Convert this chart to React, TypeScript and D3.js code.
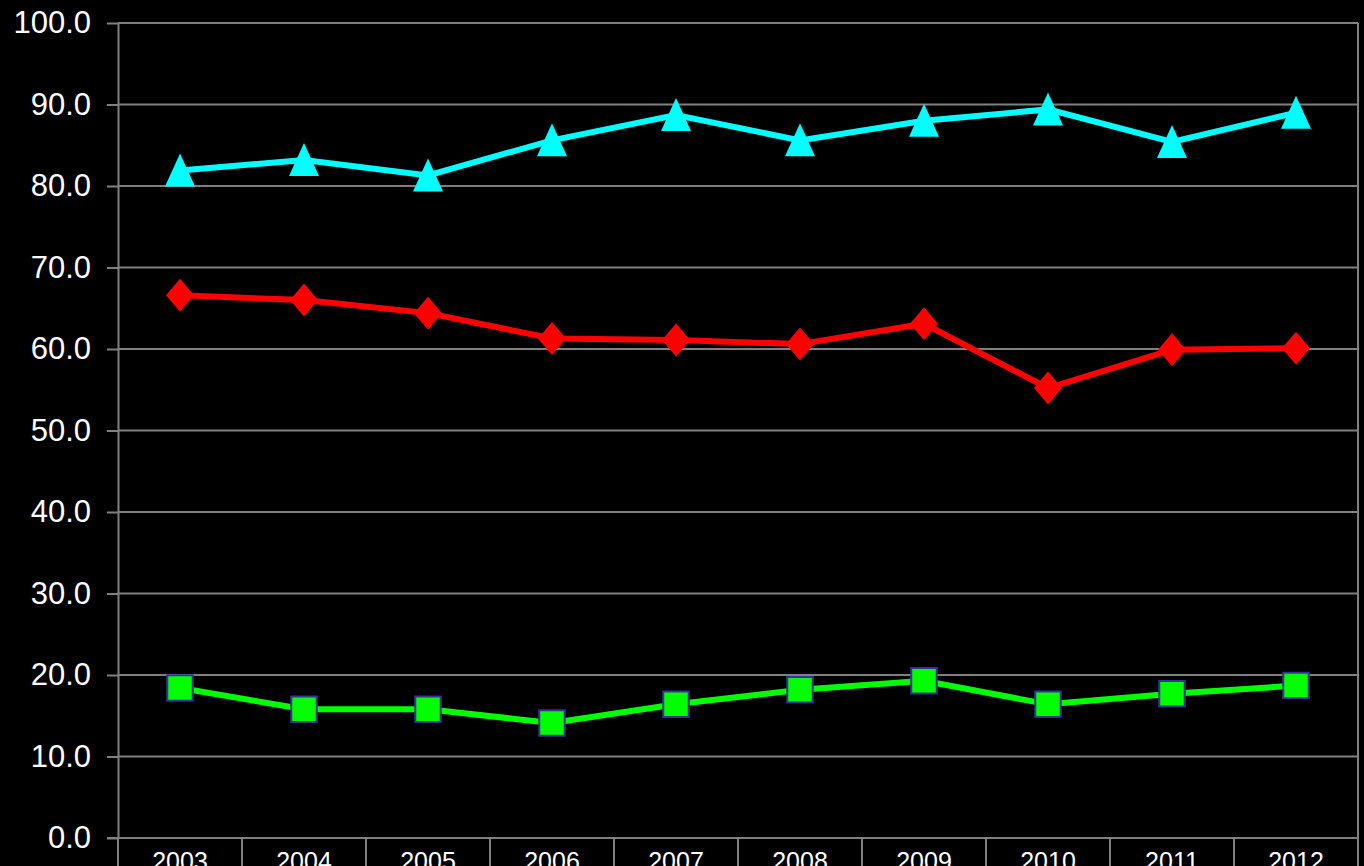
import React, { useEffect, useRef } from "react";
import * as d3 from "d3";

const years = ["2003", "2004", "2005", "2006", "2007", "2008", "2009", "2010", "2011", "2012"];
const cyanValues = [81.9, 83.2, 81.3, 85.6, 88.7, 85.6, 88.0, 89.4, 85.4, 89.0];
const redValues = [66.6, 66.0, 64.4, 61.3, 61.1, 60.6, 63.1, 55.2, 59.9, 60.1];
const greenValues = [18.4, 15.8, 15.8, 14.1, 16.4, 18.2, 19.3, 16.4, 17.7, 18.7];
const yTicks = [0, 10, 20, 30, 40, 50, 60, 70, 80, 90, 100];

const W = 1364;
const H = 866;
const left = 118;
const right = 1358;
const top = 23;
const bottom = 838;
const gridColor = "#808080";

// marker shapes (drawn around 0,0)
const tallTriangle = {
  draw(ctx: any) {
    ctx.moveTo(0, -17);
    ctx.lineTo(15, 16);
    ctx.lineTo(-15, 16);
    ctx.closePath();
  },
};
const wideDiamond = {
  draw(ctx: any) {
    ctx.moveTo(0, -16.5);
    ctx.lineTo(14, 0);
    ctx.lineTo(0, 16.5);
    ctx.lineTo(-14, 0);
    ctx.closePath();
  },
};

export default function App() {
  const svgRef = useRef<SVGSVGElement>(null);

  useEffect(() => {
    const svg = d3.select(svgRef.current);
    svg.selectAll("*").remove();

    const x = d3.scaleBand().domain(years).range([left, right]);
    const y = d3.scaleLinear().domain([0, 100]).range([bottom, top]);
    const cx = (d: string) => (x(d) as number) + x.bandwidth() / 2;

    svg.append("rect").attr("width", W).attr("height", H).attr("fill", "black");

    // y axis with tick labels
    const yAxis = svg.append("g")
      .attr("transform", `translate(${left},0)`)
      .call(d3.axisLeft(y).tickValues(yTicks).tickFormat(d3.format(".1f")).tickSize(11).tickSizeOuter(0));
    yAxis.select(".domain").attr("stroke", gridColor).attr("stroke-width", 2);
    yAxis.selectAll("line").attr("stroke", gridColor).attr("stroke-width", 2);
    yAxis.selectAll("text")
      .attr("fill", "white")
      .attr("font-family", "Liberation Sans, Arial, sans-serif")
      .attr("font-size", 31)
      .attr("x", -27);

    // horizontal gridlines
    svg.append("g").selectAll("line").data(yTicks.filter(t => t > 0)).enter().append("line")
      .attr("x1", left).attr("x2", right)
      .attr("y1", d => y(d)).attr("y2", d => y(d))
      .attr("stroke", gridColor).attr("stroke-width", 2);

    // x axis line, category separators
    svg.append("line")
      .attr("x1", left - 11).attr("x2", right)
      .attr("y1", bottom).attr("y2", bottom)
      .attr("stroke", gridColor).attr("stroke-width", 2);
    const edges = years.map(d => x(d) as number).concat([right]);
    svg.append("g").selectAll("line").data(edges).enter().append("line")
      .attr("x1", d => d).attr("x2", d => d)
      .attr("y1", (d, i) => (i === edges.length - 1 ? top : bottom)).attr("y2", H)
      .attr("stroke", gridColor).attr("stroke-width", 2);
    svg.append("g").selectAll("text").data(years).enter().append("text")
      .attr("x", d => cx(d)).attr("y", 870)
      .attr("text-anchor", "middle")
      .attr("fill", "white")
      .attr("font-family", "Liberation Sans, Arial, sans-serif")
      .attr("font-size", 25)
      .text(d => d);

    const line = d3.line<number>().x((d, i) => cx(years[i])).y(d => y(d));

    const series = [
      { values: cyanValues, color: "#00ffff", symbol: tallTriangle, size: 64, stroke: "none" },
      { values: redValues, color: "#ff0000", symbol: wideDiamond, size: 64, stroke: "none" },
      { values: greenValues, color: "#00ff00", symbol: d3.symbolSquare, size: 650, stroke: "#333399" },
    ];

    series.forEach(s => {
      svg.append("path")
        .attr("d", line(s.values))
        .attr("fill", "none")
        .attr("stroke", s.color)
        .attr("stroke-width", 6);
      svg.append("g").selectAll("path").data(s.values).enter().append("path")
        .attr("transform", (d, i) => `translate(${cx(years[i])},${y(d)})`)
        .attr("d", d3.symbol().type(s.symbol as any).size(s.size)())
        .attr("fill", s.color)
        .attr("stroke", s.stroke)
        .attr("stroke-width", 2);
    });
  }, []);

  return (
    <svg ref={svgRef} width={W} height={H}
      style={{ position: "absolute", left: 0, top: 0, display: "block" }} />
  );
}
